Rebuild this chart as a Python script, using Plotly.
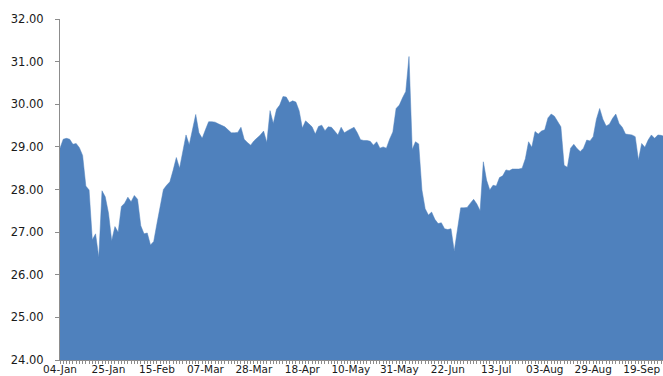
import plotly.graph_objects as go

values = [
    28.97, 29.18, 29.20, 29.18, 29.06, 29.08, 28.98, 28.80, 28.08, 27.99,
    26.82, 26.96, 26.41, 27.97, 27.83, 27.45, 26.80, 27.13, 27.00, 27.60,
    27.68, 27.82, 27.71, 27.86, 27.77, 27.15, 26.96, 26.98, 26.70, 26.78,
    27.20, 27.60, 28.00, 28.10, 28.18, 28.45, 28.75, 28.50, 28.90, 29.28,
    29.05, 29.40, 29.76, 29.33, 29.20, 29.40, 29.59, 29.59, 29.58, 29.54,
    29.50, 29.47, 29.40, 29.33, 29.33, 29.34, 29.46, 29.18, 29.10, 29.04,
    29.14, 29.20, 29.28, 29.37, 29.10, 29.85, 29.55, 29.88, 29.98, 30.18,
    30.17, 30.04, 30.08, 30.05, 29.85, 29.44, 29.61, 29.54, 29.47, 29.30,
    29.48, 29.51, 29.38, 29.47, 29.46, 29.37, 29.28, 29.46, 29.33, 29.38,
    29.43, 29.46, 29.33, 29.17, 29.15, 29.15, 29.13, 29.04, 29.12, 28.97,
    29.00, 28.97, 29.18, 29.35, 29.90, 29.98, 30.15, 30.30, 31.12, 28.94,
    29.12, 29.07, 27.99, 27.55, 27.40, 27.47, 27.30, 27.20, 27.22, 27.08,
    27.06, 27.08, 26.56, 27.05, 27.57, 27.57, 27.58, 27.68, 27.77, 27.66,
    27.50, 28.65, 28.22, 27.99, 28.10, 28.08, 28.28, 28.32, 28.46, 28.44,
    28.48, 28.48, 28.48, 28.50, 28.72, 29.12, 28.99, 29.36, 29.30, 29.37,
    29.40, 29.68, 29.77, 29.72, 29.60, 29.47, 28.57, 28.52, 28.97, 29.06,
    28.96, 28.89, 28.97, 29.16, 29.14, 29.24, 29.65, 29.90, 29.65, 29.49,
    29.53, 29.67, 29.77, 29.55, 29.46, 29.30, 29.29, 29.28, 29.24, 28.69,
    29.08, 28.99, 29.16, 29.28, 29.20, 29.28, 29.27, 29.25,
]
tick_labels = ["04-Jan", "25-Jan", "15-Feb", "07-Mar", "28-Mar", "18-Apr",
               "10-May", "31-May", "22-Jun", "13-Jul", "03-Aug", "29-Aug",
               "19-Sep"]
label_step = 15

x = list(range(len(values)))
tick_pos = [i * label_step for i in range(len(tick_labels))]

fig = go.Figure()
fig.add_trace(go.Scatter(
    x=x, y=values, mode="lines", fill="tozeroy",
    fillcolor="#4F81BD", line=dict(color="#4F81BD", width=0.5),
    hoverinfo="x+y",
))

axis_col = "#8c8c8c"
fig.update_layout(
    width=663, height=376,
    margin=dict(l=60, r=0, t=19, b=16),
    paper_bgcolor="white", plot_bgcolor="white",
    showlegend=False,
    font=dict(family="DejaVu Sans", color="#1a1a1a"),
    xaxis=dict(
        range=[0, 186.6], tickmode="array", tickvals=tick_pos, ticktext=tick_labels,
        showgrid=False, zeroline=False, showline=True, linecolor=axis_col, linewidth=1,
        ticks="outside", ticklen=3, tickcolor=axis_col, tickfont=dict(size=10.5),
        ticklabelstandoff=-4,
        minor=dict(tickmode="array", tickvals=x, ticks="outside", ticklen=3,
                   tickcolor=axis_col, showgrid=False),
        automargin=False,
    ),
    yaxis=dict(
        range=[24, 32], dtick=1, tick0=24, tickformat=".2f",
        showgrid=False, zeroline=False, showline=True, linecolor=axis_col, linewidth=1,
        ticks="outside", ticklen=4, tickcolor=axis_col, tickfont=dict(size=11.5),
        ticklabelstandoff=9, automargin=False,
    ),
)

fig.write_html("out.html")
